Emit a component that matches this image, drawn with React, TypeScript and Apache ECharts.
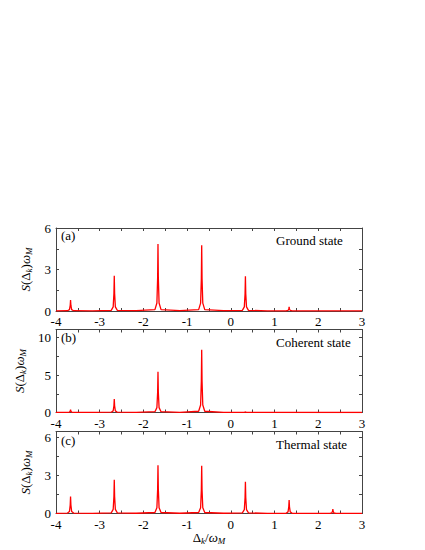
import React, { useEffect, useRef } from "react";
import * as echarts from "echarts";

// ---------- data ----------
const panelLabels = ["(a)", "(b)", "(c)"];
const stateLabels = ["Ground state", "Coherent state", "Thermal state"];

const xTickValues = [-4, -3.5, -3, -2.5, -2, -1.5, -1, -0.5, 0, 0.5, 1, 1.5, 2, 2.5, 3];
const xLabelValues = [-4, -3, -2, -1, 0, 1, 2, 3];

const yMaxes = [6, 11.1, 6.45];
const yTickValues = [
  [0, 1.5, 3, 4.5, 6],
  [0, 2.5, 5, 7.5, 10],
  [0, 1.5, 3, 4.5, 6],
];
const yLabelValues = [
  [0, 3, 6],
  [0, 5, 10],
  [0, 3, 6],
];

const groundSpectrum: [number, number][] = [
  [-4, 0.005],
  [-3.737, 0.02], [-3.692, 0.1], [-3.675, 0.4], [-3.667, 0.8], [-3.659, 0.4], [-3.642, 0.1], [-3.597, 0.02],
  [-3.167, 0.01],
  [-2.737, 0.05], [-2.692, 0.3], [-2.675, 1.27], [-2.667, 2.55], [-2.659, 1.27], [-2.642, 0.3], [-2.597, 0.05],
  [-2.167, 0.02],
  [-1.737, 0.1], [-1.692, 0.58], [-1.675, 2.4], [-1.667, 4.85], [-1.659, 2.4], [-1.642, 0.58], [-1.597, 0.1],
  [-1.167, 0.02],
  [-0.737, 0.1], [-0.692, 0.57], [-0.675, 2.35], [-0.667, 4.75], [-0.659, 2.35], [-0.642, 0.57], [-0.597, 0.1],
  [-0.167, 0.02],
  [0.263, 0.05], [0.308, 0.3], [0.325, 1.25], [0.333, 2.52], [0.341, 1.25], [0.358, 0.3], [0.403, 0.05],
  [0.833, 0.01],
  [1.263, 0.006], [1.308, 0.04], [1.325, 0.15], [1.333, 0.3], [1.341, 0.15], [1.358, 0.04], [1.403, 0.006],
  [3, 0.002],
];

const coherentSpectrum: [number, number][] = [
  [-4, 0.005],
  [-3.737, 0.01], [-3.692, 0.05], [-3.675, 0.18], [-3.667, 0.37], [-3.659, 0.18], [-3.642, 0.05], [-3.597, 0.01],
  [-3.167, 0.01],
  [-2.737, 0.04], [-2.692, 0.22], [-2.675, 0.9], [-2.667, 1.8], [-2.659, 0.9], [-2.642, 0.22], [-2.597, 0.04],
  [-2.167, 0.02],
  [-1.737, 0.11], [-1.692, 0.65], [-1.675, 2.7], [-1.667, 5.45], [-1.659, 2.7], [-1.642, 0.65], [-1.597, 0.11],
  [-1.167, 0.03],
  [-0.737, 0.17], [-0.692, 1.0], [-0.675, 4.2], [-0.667, 8.4], [-0.659, 4.2], [-0.642, 1.0], [-0.597, 0.17],
  [-0.167, 0.02],
  [0.263, 0.005], [0.308, 0.02], [0.325, 0.07], [0.333, 0.15], [0.341, 0.07], [0.358, 0.02], [0.403, 0.005],
  [3, 0.001],
];

const thermalSpectrum: [number, number][] = [
  [-4, 0.01],
  [-3.737, 0.03], [-3.692, 0.16], [-3.675, 0.66], [-3.667, 1.33], [-3.659, 0.66], [-3.642, 0.16], [-3.597, 0.03],
  [-3.167, 0.015],
  [-2.737, 0.05], [-2.692, 0.32], [-2.675, 1.33], [-2.667, 2.66], [-2.659, 1.33], [-2.642, 0.32], [-2.597, 0.05],
  [-2.167, 0.02],
  [-1.737, 0.08], [-1.692, 0.46], [-1.675, 1.9], [-1.667, 3.8], [-1.659, 1.9], [-1.642, 0.46], [-1.597, 0.08],
  [-1.167, 0.02],
  [-0.737, 0.08], [-0.692, 0.45], [-0.675, 1.87], [-0.667, 3.75], [-0.659, 1.87], [-0.642, 0.45], [-0.597, 0.08],
  [-0.167, 0.02],
  [0.263, 0.05], [0.308, 0.3], [0.325, 1.25], [0.333, 2.5], [0.341, 1.25], [0.358, 0.3], [0.403, 0.05],
  [0.833, 0.015],
  [1.263, 0.02], [1.308, 0.13], [1.325, 0.53], [1.333, 1.06], [1.341, 0.53], [1.358, 0.13], [1.403, 0.02],
  [1.833, 0.008],
  [2.263, 0.007], [2.308, 0.04], [2.325, 0.17], [2.333, 0.34], [2.341, 0.17], [2.358, 0.04], [2.403, 0.007],
  [3, 0.005],
];

const spectra = [groundSpectrum, coherentSpectrum, thermalSpectrum];

// ---------- layout ----------
const FONT = "Liberation Serif";
const AXIS_COLOR = "#444";
const gridTops = [228, 329.5, 431.5];
const gridHeights = [83, 83, 82];
const GRID_LEFT = 56;
const GRID_WIDTH = 306;
const panelLabelY = [237, 339, 442];
const stateLabelY = [241.5, 343.5, 446];

const richStyles = {
  i: { fontFamily: FONT, fontSize: 13, fontStyle: "italic", color: "#000" },
  n: { fontFamily: FONT, fontSize: 13, color: "#000" },
  sub: { fontFamily: FONT, fontSize: 9, fontStyle: "italic", color: "#000", padding: [7, 0, 0, 0] },
};

export default function App() {
  const ref = useRef<HTMLDivElement>(null);

  useEffect(() => {
    document.body.style.margin = "0";
    if (!ref.current) return;
    const chart = echarts.init(ref.current, null, { renderer: "svg" });

    const grids: any[] = [];
    const xAxes: any[] = [];
    const yAxes: any[] = [];
    const series: any[] = [];
    const graphics: any[] = [];

    for (let i = 0; i < 3; i++) {
      grids.push({
        left: GRID_LEFT,
        top: gridTops[i],
        width: GRID_WIDTH,
        height: gridHeights[i],
        containLabel: false,
      });
      const tickStyle = {
        show: true,
        inside: true,
        length: 3,
        lineStyle: { color: AXIS_COLOR, width: 1 },
      };
      const axisLine = { show: true, onZero: false, lineStyle: { color: AXIS_COLOR, width: 1 } };
      xAxes.push({
        type: "value",
        gridIndex: i,
        position: "bottom",
        min: -4,
        max: 3,
        interval: 1,
        axisLine,
        axisTick: { ...tickStyle, customValues: xTickValues },
        axisLabel: {
          customValues: xLabelValues,
          fontFamily: FONT,
          fontSize: 13,
          color: "#000",
          margin: 4,
        },
        splitLine: { show: false },
        ...(i === 2
          ? {
              name: "{n|Δ}{sub|k}{n|/}{i|ω}{sub|M}",
              nameLocation: "middle",
              nameGap: 15,
              nameTextStyle: { fontFamily: FONT, fontSize: 13, color: "#000", rich: richStyles },
            }
          : {}),
      });
      xAxes.push({
        type: "value",
        gridIndex: i,
        position: "top",
        min: -4,
        max: 3,
        interval: 1,
        axisLine,
        axisTick: { ...tickStyle, customValues: xTickValues },
        axisLabel: { show: false },
        splitLine: { show: false },
      });
      yAxes.push({
        type: "value",
        gridIndex: i,
        position: "left",
        min: 0,
        max: yMaxes[i],
        axisLine,
        axisTick: { ...tickStyle, customValues: yTickValues[i] },
        axisLabel: {
          customValues: yLabelValues[i],
          fontFamily: FONT,
          fontSize: 13,
          color: "#000",
          margin: 5,
        },
        splitLine: { show: false },
        name: "{i|S}{n|(Δ}{sub|k}{n|)}{i|ω}{sub|M}",
        nameLocation: "middle",
        nameGap: 18,
        nameTextStyle: { fontFamily: FONT, fontSize: 13, color: "#000", rich: richStyles },
      });
      yAxes.push({
        type: "value",
        gridIndex: i,
        position: "right",
        min: 0,
        max: yMaxes[i],
        axisLine,
        axisTick: { ...tickStyle, customValues: yTickValues[i] },
        axisLabel: { show: false },
        splitLine: { show: false },
      });

      series.push({
        type: "line",
        xAxisIndex: 2 * i,
        yAxisIndex: 2 * i,
        data: spectra[i],
        showSymbol: false,
        symbol: "none",
        lineStyle: { color: "#ff0000", width: 1.3 },
        clip: true,
        z: 1,
      });

      graphics.push({
        type: "text",
        left: 61,
        top: panelLabelY[i] - 8,
        style: { text: panelLabels[i], font: `13px "${FONT}"`, fill: "#000" },
      });
      graphics.push({
        type: "text",
        left: 276,
        top: stateLabelY[i] - 8,
        style: { text: stateLabels[i], font: `13px "${FONT}"`, fill: "#000" },
      });
    }

    chart.setOption({
      animation: false,
      backgroundColor: "#fff",
      grid: grids,
      xAxis: xAxes,
      yAxis: yAxes,
      series,
      graphic: graphics,
    });

    return () => chart.dispose();
  }, []);

  return <div ref={ref} style={{ width: 425, height: 550 }} />;
}
